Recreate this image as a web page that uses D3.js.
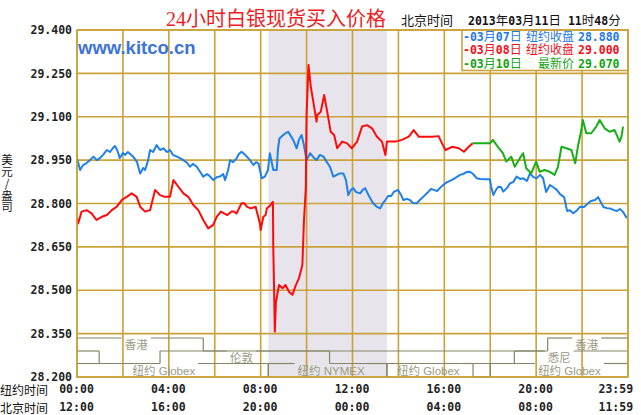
<!DOCTYPE html>
<html><head><meta charset="utf-8">
<script src="https://cdn.jsdelivr.net/npm/d3@7"></script>
<style>
html,body{margin:0;padding:0;background:#fff;}
svg{display:block;}
</style></head>
<body>
<svg id="c" width="641" height="415"></svg>
<script>
// ---------- data ----------
const yTicks = [28.2, 28.35, 28.5, 28.65, 28.8, 28.95, 29.1, 29.25, 29.4];
const xTickMinutes = [0, 240, 480, 720, 960, 1200, 1439];
const xTickNY = ["00:00", "04:00", "08:00", "12:00", "16:00", "20:00", "23:59"];
const xTickBJ = ["12:00", "16:00", "20:00", "00:00", "04:00", "08:00", "11:59"];
const gridMinutes = [0,120,240,360,480,600,720,840,960,1080,1200,1320,1440];

const blueMin = [0,8,16,25,34,43,52,60,68,78,86,94,99,105,112,120,125,133,147,157,165,173,178,186,191,199,208,217,226,235,243,251,261,269,278,288,295,303,313,322,330,340,348,356,366,374,382,387,395,400,408,417,423,430,437,444,452,461,468,474,478,483,491,499,504,513,522,525,529,539,546,552,559,565,574,580,587,593,600,609,617,626,635,644,653,661,670,679,687,696,703,709,716,722,729,740,747,753,763,774,784,792,800,806,813,821,828,839,847,853,862,870,878,888,896,904,915,925,933,941,949,957,967,979,988,1001,1009,1019,1027,1035,1045,1053,1066,1079,1082,1088,1095,1101,1108,1114,1124,1132,1140,1149,1158,1166,1176,1184,1192,1201,1210,1218,1226,1236,1244,1254,1262,1273,1281,1288,1297,1307,1315,1325,1336,1343,1354,1362,1370,1376,1385,1393,1403,1411,1419,1427,1437];
const blueVal = [28.957,28.916,28.933,28.940,28.950,28.962,28.950,28.957,28.968,28.985,28.978,28.992,28.999,28.985,28.957,28.975,28.968,28.978,28.962,28.943,28.904,28.923,28.916,28.950,28.985,28.978,29.002,28.985,28.991,28.978,28.985,28.968,28.962,28.957,28.950,28.940,28.927,28.937,28.927,28.909,28.893,28.902,28.893,28.881,28.892,28.893,28.902,28.881,28.916,28.950,28.943,28.956,28.971,28.979,28.971,28.962,28.950,28.933,28.943,28.939,28.916,28.887,28.893,28.916,28.974,28.916,28.916,28.985,29.025,29.037,29.044,29.048,29.033,29.020,28.991,29.020,29.037,29.002,28.950,28.974,28.961,28.950,28.968,28.962,28.943,28.927,28.893,28.899,28.904,28.904,28.881,28.829,28.847,28.853,28.840,28.835,28.847,28.853,28.826,28.801,28.788,28.783,28.802,28.812,28.826,28.826,28.840,28.847,28.829,28.812,28.816,28.812,28.802,28.801,28.812,28.822,28.836,28.850,28.847,28.843,28.854,28.864,28.874,28.881,28.888,28.899,28.902,28.909,28.910,28.902,28.887,28.885,28.884,28.884,28.860,28.829,28.847,28.858,28.857,28.841,28.854,28.870,28.874,28.893,28.885,28.887,28.878,28.904,28.892,28.887,28.899,28.888,28.840,28.864,28.857,28.847,28.833,28.822,28.774,28.777,28.766,28.777,28.789,28.788,28.801,28.809,28.812,28.822,28.802,28.788,28.784,28.783,28.777,28.774,28.781,28.771,28.749];

const redMin = [0,3,12,25,38,51,65,78,91,104,117,130,143,156,165,178,191,204,217,230,243,252,265,278,291,304,317,330,343,356,365,376,393,404,410,417,430,437,444,454,467,470,478,480,487,493,496,506,509,512,513,515,517,520,528,537,545,554,563,572,580,589,593,598,600,605,611,619,626,628,637,646,654,663,672,680,693,706,718,732,745,758,771,784,797,806,810,832,849,867,880,893,910,928,945,954,963,980,998,1011,1024,1034];
const redVal = [28.750,28.731,28.772,28.777,28.766,28.743,28.754,28.760,28.777,28.789,28.812,28.823,28.835,28.823,28.789,28.772,28.777,28.847,28.829,28.823,28.823,28.881,28.858,28.835,28.823,28.795,28.777,28.743,28.714,28.726,28.754,28.772,28.760,28.772,28.772,28.766,28.801,28.801,28.789,28.783,28.789,28.772,28.731,28.708,28.754,28.760,28.783,28.795,28.801,28.806,28.645,28.507,28.357,28.460,28.518,28.507,28.518,28.495,28.484,28.518,28.541,28.587,28.737,28.853,29.106,29.279,29.204,29.141,29.083,29.106,29.117,29.175,29.117,29.048,29.037,28.991,29.014,29.008,28.991,29.014,29.066,29.071,29.060,29.031,29.014,28.968,29.014,29.014,29.020,29.031,29.054,29.031,29.031,29.031,29.033,29.008,28.985,28.996,28.991,28.979,28.996,29.008];

const greenMin = [1034,1079,1087,1100,1113,1122,1135,1144,1157,1166,1174,1187,1200,1209,1222,1235,1248,1257,1266,1279,1292,1302,1309,1318,1322,1331,1344,1357,1366,1379,1392,1405,1418,1423,1427];
const greenVal = [29.008,29.008,29.020,28.996,28.974,28.945,28.962,28.927,28.956,28.974,28.922,28.904,28.945,28.910,28.916,28.910,28.899,28.927,28.996,28.991,28.985,28.939,28.996,29.054,29.089,29.043,29.043,29.066,29.089,29.060,29.048,29.054,29.014,29.031,29.066];

const legendDates = ["-03月07日", "-03月08日", "-03月10日"];
const legendNames = ["纽约收盘", "纽约收盘", "最新价"];
const legendValues = ["28.880", "29.000", "29.070"];
const seriesColors = ["#1e80e8", "#ff0a0a", "#16b016"];
const legendColors = ["#1e78e6", "#f0101a", "#10a410"];

// market sessions (minutes, NY time)
const sessionRow   = [0, 0, 1, 1, 1, 2, 2, 2, 2];
const sessionStart = [0, 1230, 0, 217, 1143, 0, 500, 810, 1080];
const sessionEnd   = [330, 1440, 58, 660, 1440, 500, 810, 1035, 1440];
const sessionLabel = ["香港", "香港", "", "伦敦", "悉尼", "纽约 Globex", "纽约 NYMEX", "纽约 Globex", "纽约 Globex"];
const sessionLabelAt = [155, 1332, 0, 430, 1260, 227, 664, 918, 1287];
const nymexShade = [500, 810];

// ---------- layout ----------
const L = 77, R = 628, T = 30, B = 377;
const svg = d3.select("#c");
const x = d3.scaleLinear().domain([0, 1440]).range([L, R]);
const y = d3.scaleLinear().domain([28.2, 29.4]).range([B, T]);
const gridColor = "#c9a23a";
const monoFont = "'DejaVu Sans Mono', 'Liberation Mono', monospace";
const cjkFont = "'Noto Sans CJK SC', sans-serif";

function mixed(sel, str, monoSize, cjkSize) {
  const runs = str.match(/[\x00-\x7F]+|[^\x00-\x7F]+/g) || [];
  runs.forEach(r => {
    const ascii = /^[\x00-\x7F]+$/.test(r);
    sel.append("tspan")
      .attr("font-family", ascii ? monoFont : cjkFont)
      .attr("font-weight", ascii ? "bold" : "normal")
      .attr("font-size", ascii ? monoSize : cjkSize)
      .text(r);
  });
  return sel;
}

svg.append("rect").attr("width", 641).attr("height", 415).attr("fill", "#fff");

// NYMEX shading
svg.append("rect")
  .attr("x", x(nymexShade[0])).attr("y", T)
  .attr("width", x(nymexShade[1]) - x(nymexShade[0])).attr("height", B - T)
  .attr("fill", "#e7e5eb");

// grid
const grid = svg.append("g").attr("stroke", gridColor).attr("stroke-width", 1.6);
grid.selectAll("line.h").data(yTicks).join("line")
  .attr("x1", L).attr("x2", R).attr("y1", d => y(d)).attr("y2", d => y(d));
grid.selectAll("line.v").data(gridMinutes).join("line")
  .attr("x1", d => x(d)).attr("x2", d => x(d)).attr("y1", T).attr("y2", B);

// market session timing diagram
const rowHi = [338, 351, 363.5];
const rowLo = [351, 363.5, B];
const bandColor = "#85856a";
const bands = svg.append("g");
const bandLines = bands.append("g").attr("stroke", bandColor).attr("stroke-width", 1.2).attr("fill", "none");
const bandText = bands.append("g");
function hline(x1, x2, yy) { if (x2 > x1) bandLines.append("line").attr("x1", x1).attr("x2", x2).attr("y1", yy).attr("y2", yy); }
function vline(xx, y1, y2) { bandLines.append("line").attr("x1", xx).attr("x2", xx).attr("y1", y1).attr("y2", y2); }
[0, 1, 2].forEach(r => {
  const idx = sessionRow.map((v, i) => v === r ? i : -1).filter(i => i >= 0)
    .sort((a, b) => sessionStart[a] - sessionStart[b]);
  let prevEnd = 0;
  idx.forEach(i => {
    const s = sessionStart[i], e = sessionEnd[i];
    if (s > prevEnd) hline(x(prevEnd), x(s), rowLo[r]);
    if (s > 0) vline(x(s), rowHi[r], rowLo[r]);
    if (sessionLabel[i]) {
      const t = bandText.append("text")
        .attr("x", x(sessionLabelAt[i])).attr("y", (rowHi[r] + rowLo[r]) / 2 + 4.3)
        .attr("text-anchor", "middle").attr("fill", "#9a9a84")
        .attr("font-family", "'Liberation Sans', 'Noto Sans CJK SC', sans-serif")
        .attr("font-size", 11.5).text(sessionLabel[i]);
      const w = t.node().getComputedTextLength();
      hline(x(s), x(sessionLabelAt[i]) - w / 2 - 3, rowHi[r]);
      hline(x(sessionLabelAt[i]) + w / 2 + 3, x(e), rowHi[r]);
    } else {
      hline(x(s), x(e), rowHi[r]);
    }
    if (e < 1440) vline(x(e), rowHi[r], rowLo[r]);
    prevEnd = e;
  });
  if (prevEnd < 1440) hline(x(prevEnd), x(1440), rowLo[r]);
});

// series
svg.append("clipPath").attr("id", "clip").append("rect")
  .attr("x", L).attr("y", T).attr("width", R - L).attr("height", B - T);
const line = d3.line().x(d => x(d[0])).y(d => y(d[1]));
const series = [
  d3.zip(blueMin, blueVal),
  d3.zip(redMin, redVal),
  d3.zip(greenMin, greenVal)
];
const lines = svg.append("g").attr("clip-path", "url(#clip)");
series.forEach((s, i) => {
  lines.append("path").datum(s).attr("d", line)
    .attr("fill", "none").attr("stroke", seriesColors[i])
    .attr("stroke-width", 2).attr("stroke-linejoin", "round");
});

// legend box
const lg = svg.append("g");
lg.append("rect").attr("x", 462).attr("y", T).attr("width", R - 462).attr("height", 40.5)
  .attr("fill", "#fff").attr("stroke", gridColor).attr("stroke-width", 1.6);
legendDates.forEach((d, i) => {
  const yy = 40.5 + i * 13.6;
  mixed(lg.append("text").attr("x", 463).attr("y", yy).attr("fill", legendColors[i]), d, 11.5, 12);
  lg.append("text").attr("x", 574).attr("y", yy).attr("text-anchor", "end").attr("fill", legendColors[i])
    .attr("font-family", cjkFont).attr("font-size", 12).text(legendNames[i]);
  lg.append("text").attr("x", 578).attr("y", yy).attr("fill", legendColors[i])
    .attr("font-family", monoFont).attr("font-weight", "bold").attr("font-size", 11.5).text(legendValues[i]);
});

// plot border
svg.append("rect").attr("x", L).attr("y", T).attr("width", R - L).attr("height", B - T)
  .attr("fill", "none").attr("stroke", gridColor).attr("stroke-width", 1.6);

// y axis labels
const yAxis = svg.append("g").attr("transform", `translate(${L},0)`)
  .call(d3.axisLeft(y).tickValues(yTicks).tickFormat(d3.format(".3f")).tickSize(0).tickPadding(5));
yAxis.select(".domain").remove();
yAxis.selectAll("text").attr("font-family", monoFont).attr("font-weight", "bold")
  .attr("font-size", 11.5).attr("fill", "#222");

// x axis labels (two rows)
[xTickNY, xTickBJ].forEach((labels, row) => {
  const ax = svg.append("g").attr("transform", `translate(0,${B})`)
    .call(d3.axisBottom(x).tickValues(xTickMinutes).tickFormat((d, i) => labels[i]).tickSize(0).tickPadding(row === 0 ? 8 : 26));
  ax.select(".domain").remove();
  ax.selectAll("text").attr("font-family", monoFont).attr("font-weight", "bold")
    .attr("font-size", 11.5).attr("fill", "#222")
    .attr("text-anchor", (d, i) => i === labels.length - 1 ? "end" : "middle")
    .attr("dx", (d, i) => i === labels.length - 1 ? 5 : -1);
});
svg.append("text").attr("x", 0).attr("y", 395).attr("font-family", cjkFont).attr("font-size", 12)
  .attr("fill", "#111").text("纽约时间");
svg.append("text").attr("x", 0).attr("y", 412.5).attr("font-family", cjkFont).attr("font-size", 12)
  .attr("fill", "#111").text("北京时间");

// y axis title (vertical, upright characters)
svg.append("text").attr("x", 7).attr("y", 154)
  .style("writing-mode", "vertical-rl").style("text-orientation", "upright")
  .attr("font-family", cjkFont).attr("font-size", 11.5).attr("letter-spacing", 0.3)
  .attr("fill", "#111").text("美元/盎司");

// site name
svg.append("text").attr("x", 78).attr("y", 54).attr("fill", "#3a72dc")
  .attr("font-family", "'Liberation Sans', Arial, sans-serif").attr("font-weight", "bold")
  .attr("font-size", 18.5).text("www.kitco.cn");

// title
svg.append("text").attr("x", 166).attr("y", 26).attr("fill", "#ee1c24")
  .attr("font-family", "'Liberation Serif', 'Noto Sans CJK SC', serif").attr("font-size", 20)
  .text("24小时白银现货买入价格");

// timestamp
svg.append("text").attr("x", 401).attr("y", 25).attr("fill", "#111")
  .attr("font-family", cjkFont).attr("font-size", 13).text("北京时间");
mixed(svg.append("text").attr("x", 468).attr("y", 25).attr("fill", "#111"),
  "2013年03月11日 11时48分", 11.5, 12.5);
</script>
</body></html>
